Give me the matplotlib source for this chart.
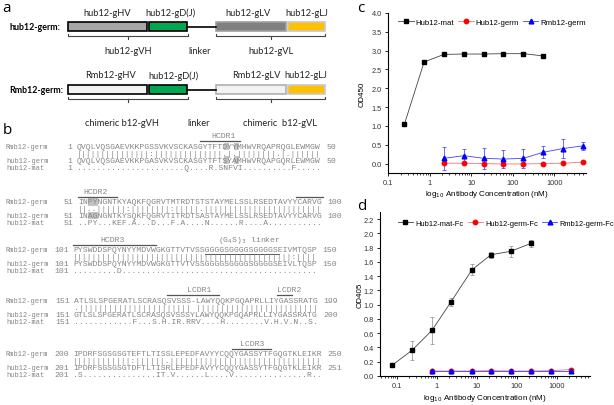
import matplotlib.pyplot as plt
from matplotlib.patches import Rectangle
from matplotlib.ticker import LogLocator, NullFormatter

plt.rcParams['font.family'] = ['Liberation Sans', 'DejaVu Sans']

# ---- panel c : OD450 ----
conc_c = [0.247, 0.74, 2.22, 6.67, 20, 60, 180, 540, 1620, 4860]
c_mat = [1.04, 2.70, 2.90, 2.91, 2.91, 2.92, 2.92, 2.86]
c_mat_err = [0.04, 0.02, 0.02, 0.02, 0.02, 0.02, 0.02, 0.02]
c_germ = [0.01, 0.01, 0.00, -0.01, -0.01, 0.00, 0.01, 0.04]
c_germ_err = [0.03, 0.03, 0.03, 0.03, 0.03, 0.02, 0.02, 0.02]
c_rmb = [0.14, 0.21, 0.14, 0.12, 0.14, 0.30, 0.40, 0.47]
c_rmb_err = [0.30, 0.17, 0.28, 0.23, 0.25, 0.16, 0.26, 0.10]

# ---- panel d : OD405 ----
conc_d = [0.075, 0.237, 0.75, 2.24, 7.5, 22.4, 71, 224, 708, 2240]
d_mat = [0.15, 0.36, 0.64, 1.04, 1.49, 1.70, 1.75, 1.86]
d_mat_err = [0.02, 0.13, 0.19, 0.06, 0.08, 0.04, 0.08, 0.05]
d_germ = [0.07, 0.07, 0.07, 0.075, 0.07, 0.07, 0.075, 0.09]
d_rmb = [0.065, 0.065, 0.065, 0.065, 0.065, 0.065, 0.065, 0.065]

# ---- panel b : alignment ----
rmb_start = [1, 51, 101, 151, 200]
rmb_end = [50, 100, 150, 199, 250]
hub_start = [1, 51, 101, 151, 201]
hub_end = [50, 100, 150, 200, 251]
rmb_seq = [
    "QVQLVQSGAEVKKPGSSVKVSCKASGYTFTDYYMHWVRQAPRQGLEWMGW",
    "INPYNGNTKYAQKFQGRVTMTRDTSTSTAYMELSSLRSEDTAVYYCARVG",
    "PYSWDDSPQYNYYMDVWGKGTTVTVSSGGGGSGGGGSGGGGSEIVMTQSP",
    "ATLSLSPGERATLSCRASQSVSSS-LAWYQQKPGQAPRLLIYGASSRATG",
    "IPDRFSGSGSGTEFTLTISSLEPEDFAVYYCQQYGASSYTFGQGTKLEIKR",
]
match_seq = [
    "|||||||||||||||" ":" "||||||||||||||" ".|." "||||||||" ".|." "||||||",
    "||" ".." "||||||" ":" "||||||||" ":" "|||||" "." "||||||||||||||||||||||||",
    "|||||||||||||||||||||||||||||||||||||||||||||" ":" "||||",
    "." "|||||||||||||||||||||||" " " "|||||||||||||||||||||||||",
    "||||||||||||" ":" "||||||" "." "|||||||||||||||||||||||||||||||",
]
hub_seq = [
    "QVQLVQSGAEVKKPGASVKVSCKASGYTFTSYAMHWVRQAPGQRLEWMGW",
    "INAGNGNTKYSQKFQGRVTITRDTSASTAYMELSSLRSEDTAVYYCARVG",
    "PYSWDDSPQYNYYMDVWGKGTTVTVSSGGGGSGGGGSGGGGSEIVLTQSP",
    "GTLSLSPGERATLSCRASQSVSSSYLAWYQQKPGQAPRLLIYGASSRATG",
    "IPDRFSGSGSGTDFTLTISRLEPEDFAVYYCQQYGASSYTFGQGTKLEIKR",
]
mat_seq = [
    "......................" "Q" "...." "R" "." "SNFVI" ".........." "F" ".....",
    ".." "PY" "..." "KEF" "." "A" "..." "D" "..." "F" "." "A" "...." "N" "......" "R" "...." "A" "...........",
    "........." "D" "........................................",
    "............" "F" "..." "S" "." "H" "." "IR" "." "RRV" "...." "H" "........" "V.H.V.N..S.",
    ".S" "..............." "IT.V" "......" "L" "...." "V" "..............." "R" "..",
]
# (block, first char, last char, label, label centre char)
cdr_marks = [
    (0, 25, 33.3, "HCDR1", 30),
    (1, 0, 8, "HCDR2", 3.5),
    (1, 44.5, 50, "", 0),
    (2, 0, 17, "HCDR3", 8),
    (3, 19, 29.5, "LCDR1", 25.5),
    (3, 41.5, 44.5, "LCDR2", 44),
    (4, 32.5, 40.5, "LCDR3", 36.5),
]
# shaded residues: (block, row 0=Rmb 2=hub, char)
shaded = [(0, 0, 30), (0, 0, 32), (0, 2, 30), (0, 2, 32),
          (1, 0, 2), (1, 0, 3), (1, 2, 2), (1, 2, 3)]

fig = plt.figure(figsize=(6.14, 4.06), dpi=100)
ax0 = fig.add_axes([0, 0, 1, 1])
ax0.set_xlim(0, 614)
ax0.set_ylim(406, 0)
ax0.axis('off')

# ---------------- panel a ----------------
ax0.text(2, 8, 'a', fontsize=11, va='center', family=['Open Sans', 'DejaVu Sans'])
fa = ['Lato', 'DejaVu Sans']
segs = [(68, 147), (149, 187), (216, 286), (288, 325)]
rows = [
    dict(y=23, name='hub12-germ:', tops=['hub12-gHV', 'hub12-gD(J)', 'hub12-gLV', 'hub12-gLJ'],
         topx=[107, 170, 248, 307], faces=['#a6a6a6', '#00a651', '#808080', '#ffc000'],
         edges=['black', 'black', '#a0a0a0', '#c8c8c8'],
         bottoms=['hub12-gVH', 'linker', 'hub12-gVL'], botx=[128, 200, 271]),
    dict(y=86, name='Rmb12-germ:', tops=['Rmb12-gHV', 'hub12-gD(J)', 'Rmb12-gLV', 'hub12-gLJ'],
         topx=[110, 173, 256, 306], faces=['#f2f2f2', '#00a651', '#f2f2f2', '#ffc000'],
         edges=['black', 'black', '#b0b0b0', '#c8c8c8'],
         bottoms=['chimeric b12-gVH', 'linker', 'chimeric  b12-gVL'], botx=[122, 199, 280]),
]
for r in rows:
    y = r['y']
    h = 9
    ax0.text(9, y + h / 2, r['name'], fontsize=6.4, fontweight='bold', va='center', family=fa)
    ax0.plot([187, 216], [y + h / 2, y + h / 2], color='black', lw=1.2)
    for (x0, x1), fc, ec in zip(segs, r['faces'], r['edges']):
        ax0.add_patch(Rectangle((x0, y), x1 - x0, h, facecolor=fc, edgecolor=ec, lw=1.2))
    for t, x in zip(r['tops'], r['topx']):
        ax0.text(x, y - 10, t, fontsize=6.7, ha='center', va='center', family=fa, color='#222222')
    yb = y + 14
    for x0, x1 in [(68, 188), (216, 325)]:
        ax0.plot([x0, x0, x1, x1], [yb - 2.5, yb, yb, yb - 2.5], color='#444444', lw=0.8)
        xm = (x0 + x1) / 2
        ax0.plot([xm, xm], [yb, yb + 3], color='#444444', lw=0.8)
    for t, x in zip(r['bottoms'], r['botx']):
        ax0.text(x, yb + 15 if y < 50 else yb + 23, t, fontsize=6.7, ha='center', va='center',
                 family=fa, color='#222222')

# ---------------- panel b ----------------
ax0.text(3, 131, 'b', fontsize=11, va='center', family=['Open Sans', 'DejaVu Sans'])
mono = ['Liberation Mono', 'DejaVu Sans Mono']
gray = '#858585'
cw = 4.9
fs = 5.88
block_y = [147.5, 203, 251, 301.5, 355]
block_x = [77, 78, 73, 74, 73]
row_dy = [0, 6.9, 13.6, 20.6]
for b in range(5):
    y0 = block_y[b]
    x0 = block_x[b]
    lines = [('Rmb12-germ', rmb_start[b], rmb_seq[b], rmb_end[b]),
             ('', None, match_seq[b], None),
             ('hub12-germ', hub_start[b], hub_seq[b], hub_end[b]),
             ('hub12-mat', hub_start[b], mat_seq[b], None)]
    for k, (nm, s, seq, e) in enumerate(lines):
        y = y0 + row_dy[k]
        if nm:
            ax0.text(6, y, nm, fontsize=5.0, family=mono, color=gray, va='center')
        if s is not None:
            ax0.text(x0 - 0.9 * cw, y, str(s), fontsize=fs, family=mono, color=gray,
                     va='center', ha='right')
        ax0.text(x0, y, seq, fontsize=fs, family=mono, color=gray, va='center')
        if e is not None:
            ax0.text(x0 + (len(seq) + 1) * cw, y, str(e), fontsize=fs, family=mono,
                     color=gray, va='center')
for b, row, i in shaded:
    ax0.add_patch(Rectangle((block_x[b] + i * cw, block_y[b] + row_dy[row] - 3.8), cw, 7.3,
                            facecolor='#c4c4c4', edgecolor='none', zorder=0))
for b, i0, i1, lab, ic in cdr_marks:
    x0 = block_x[b]
    yo = block_y[b] - 5.5
    ax0.plot([x0 + i0 * cw, x0 + i1 * cw], [yo, yo], color='#555555', lw=0.9)
    if lab:
        ax0.text(x0 + ic * cw, block_y[b] - 10.5, lab, fontsize=fs, family=mono, color=gray,
                 ha='center', va='center')
# (G4S)3 linker
ax0.text(block_x[2] + 36 * cw, block_y[2] - 10.5, '(G$_4$S)$_3$ linker', fontsize=fs,
         family=mono, color=gray, ha='center', va='center')
ax0.plot([block_x[2] + 27 * cw, block_x[2] + 42 * cw], [block_y[2] + 3.5] * 2,
         color='#555555', lw=0.7)


# ---------------- panels c and d ----------------
def style_axis(ax, ylab):
    ax.set_xscale('log')
    for s in ['top', 'right']:
        ax.spines[s].set_visible(False)
    for s in ['left', 'bottom']:
        ax.spines[s].set_linewidth(0.8)
    ax.set_xticks([0.1, 1, 10, 100, 1000])
    ax.set_xticklabels(['0.1', '1', '10', '100', '1000'])
    ax.xaxis.set_minor_locator(LogLocator(base=10, subs=[2, 3, 4, 5, 6, 7, 8, 9]))
    ax.xaxis.set_minor_formatter(NullFormatter())
    ax.tick_params(which='major', length=2.5, width=0.6, labelsize=5.3, pad=2,
                   labelcolor='#333333')
    ax.tick_params(which='minor', length=1.5, width=0.5)
    ax.set_xlabel('log$_{10}$ Antibody Concentration (nM)', fontsize=5.8)
    ax.set_ylabel(ylab, fontsize=5.8)


axc = fig.add_axes([388 / 614, 1 - 174 / 406, 198 / 614, 160 / 406])
style_axis(axc, 'OD450')
axc.errorbar(conc_c[:8], c_mat, yerr=c_mat_err, fmt='none', ecolor='#555555', elinewidth=0.5, capsize=1.2, capthick=0.5)
axc.errorbar(conc_c[2:], c_germ, yerr=c_germ_err, fmt='none', ecolor='#ff4040', elinewidth=0.5, capsize=1.2, capthick=0.5)
axc.errorbar(conc_c[2:], c_rmb, yerr=c_rmb_err, fmt='none', ecolor='#3030ff', elinewidth=0.5, capsize=1.2, capthick=0.5)
axc.plot(conc_c[:8], c_mat, color='#444444', lw=0.6, marker='s', ms=3.2, mfc='black', mec='black', label='Hub12-mat')
axc.plot(conc_c[2:], c_germ, color='#ff7070', lw=0.6, marker='o', ms=3.2, mfc='red', mec='red', label='Hub12-germ')
axc.plot(conc_c[2:], c_rmb, color='#4040ff', lw=0.6, marker='^', ms=3.4, mfc='blue', mec='blue', label='Rmb12-germ')
axc.set_xlim(0.1, 5800)
axc.set_ylim(-0.25, 4.0)
axc.set_yticks([0.0, 0.5, 1.0, 1.5, 2.0, 2.5, 3.0, 3.5, 4.0])
axc.set_yticklabels(['0.0', '0.5', '1.0', '1.5', '2.0', '2.5', '3.0', '3.5', '4.0'])
axc.yaxis.set_label_coords(-0.115, 0.5)
axc.xaxis.set_label_coords(0.5, -0.095)
axc.legend(loc='center', bbox_to_anchor=(0.525, 0.944), ncol=3, frameon=False, fontsize=5.6,
           handlelength=2.0, columnspacing=0.5, handletextpad=0.25)

axd = fig.add_axes([380 / 614, 1 - 377 / 406, 210 / 614, 164 / 406])
style_axis(axd, 'OD405')
axd.errorbar(conc_d[:8], d_mat, yerr=d_mat_err, fmt='none', ecolor='#888888', elinewidth=0.5, capsize=1.2, capthick=0.5)
axd.plot(conc_d[:8], d_mat, color='#444444', lw=0.6, marker='s', ms=3.2, mfc='black', mec='black', label='Hub12-mat-Fc')
axd.plot(conc_d[2:], d_germ, color='#ff7070', lw=0.6, marker='o', ms=3.2, mfc='red', mec='red', label='Hub12-germ-Fc')
axd.plot(conc_d[2:], d_rmb, color='#4040ff', lw=0.6, marker='^', ms=3.4, mfc='blue', mec='blue', label='Rmb12-germ-Fc')
axd.set_xlim(0.0376, 6700)
axd.set_ylim(0, 2.3)
axd.set_yticks([0.0, 0.2, 0.4, 0.6, 0.8, 1.0, 1.2, 1.4, 1.6, 1.8, 2.0, 2.2])
axd.set_yticklabels(['0.0', '0.2', '0.4', '0.6', '0.8', '1.0', '1.2', '1.4', '1.6', '1.8', '2.0', '2.2'])
axd.yaxis.set_label_coords(-0.08, 0.5)
axd.xaxis.set_label_coords(0.5, -0.098)
axd.legend(loc='center', bbox_to_anchor=(0.6, 0.933), ncol=3, frameon=False, fontsize=5.4,
           handlelength=2.0, columnspacing=0.6, handletextpad=0.3)

ax0.text(357, 8, 'c', fontsize=11, va='center', family=['Open Sans', 'DejaVu Sans'])
ax0.text(357, 207, 'd', fontsize=11, va='center', family=['Open Sans', 'DejaVu Sans'])

fig.savefig('out.png', dpi=100)
